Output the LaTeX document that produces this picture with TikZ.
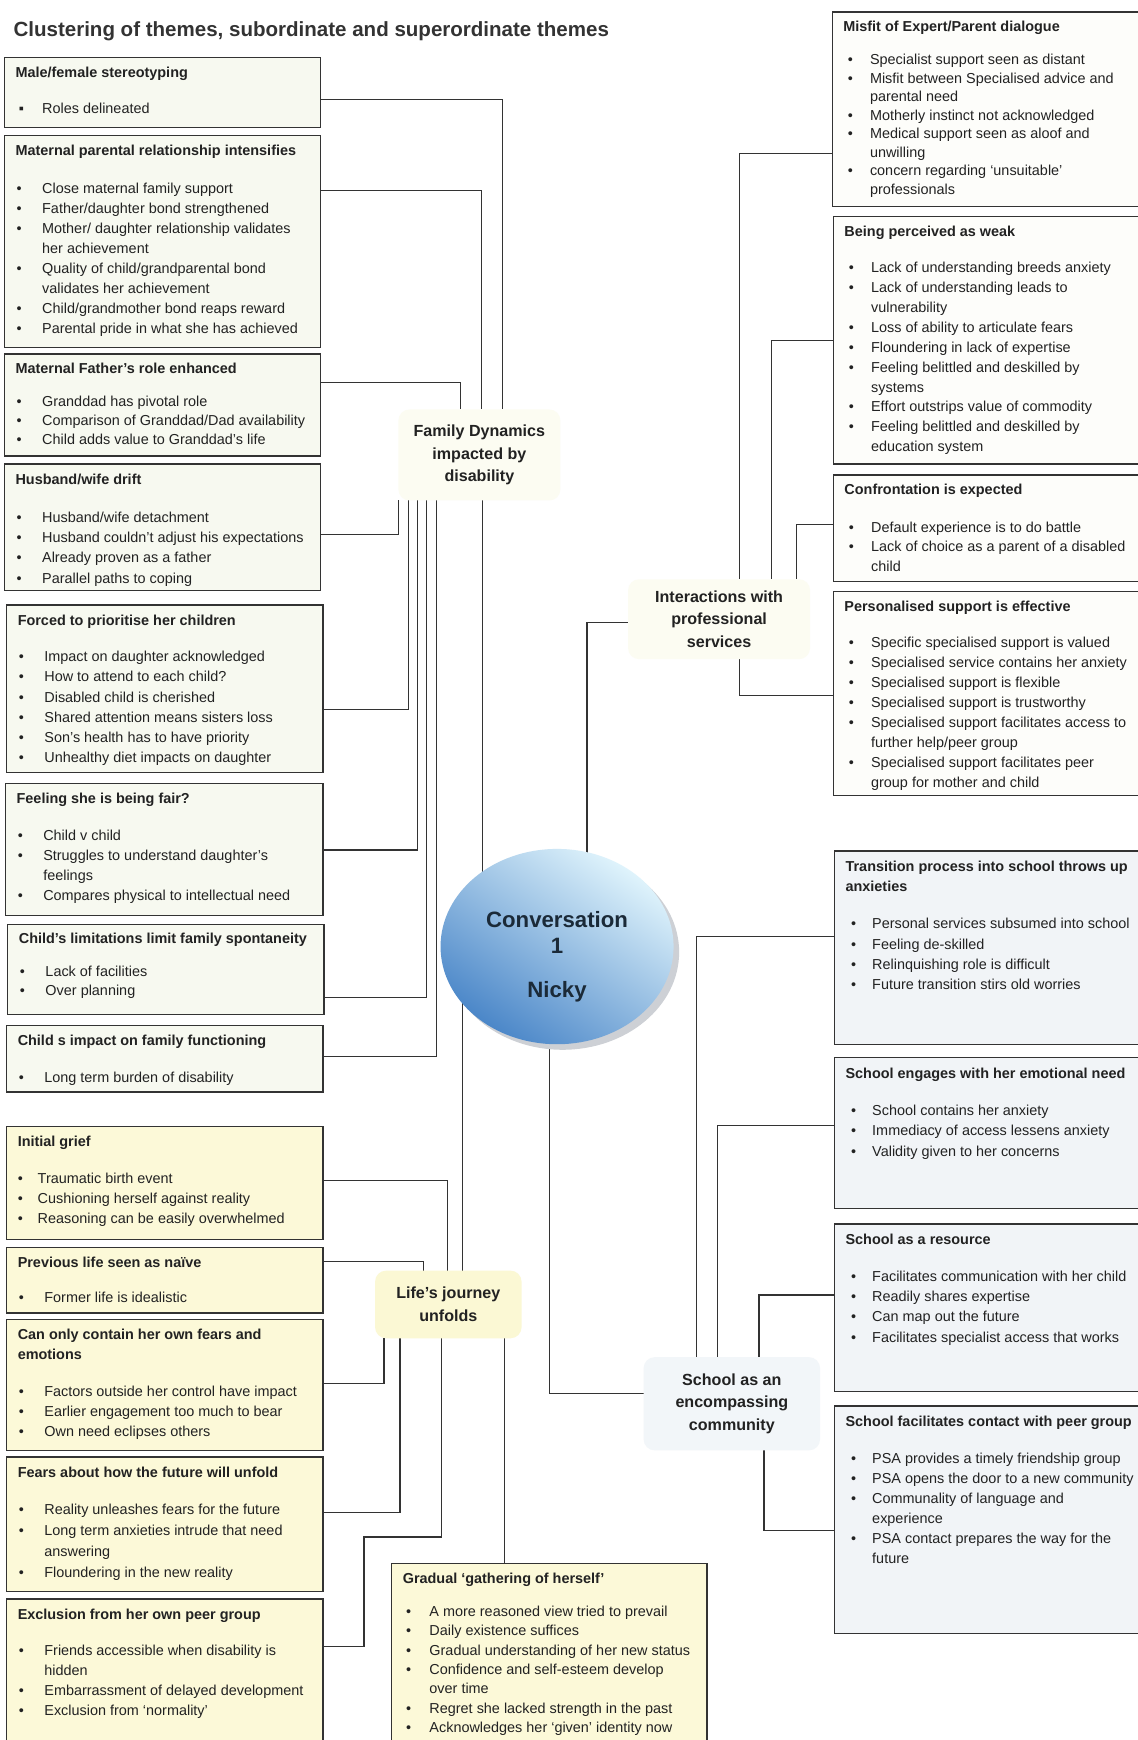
\documentclass[tikz,border=0pt]{standalone}
\usepackage{fontspec}
\setmainfont{Liberation Sans}
\usetikzlibrary{positioning, shapes.geometric, backgrounds}

\definecolor{linegray}{HTML}{333333}
\definecolor{inkgray}{HTML}{222222}
\definecolor{famfill}{HTML}{F7F9F0}
\definecolor{lifefill}{HTML}{FCF9D8}
\definecolor{proffill}{HTML}{FDFDFA}
\definecolor{schoolfill}{HTML}{F1F4F7}
\definecolor{glowyellow}{HTML}{FCFCF2}
\definecolor{glowlife}{HTML}{FBF8D4}
\definecolor{glowblue}{HTML}{F2F6F9}
\definecolor{sphtop}{HTML}{E0F4FC}
\definecolor{sphbot}{HTML}{4A86C8}
\definecolor{sphshadow}{HTML}{CDD0D5}
\definecolor{sphtext}{HTML}{1B2A38}

\newlength{\bulind}\setlength{\bulind}{24pt}
\newlength{\bulpos}\setlength{\bulpos}{1pt}
\newcommand{\themebody}[3]{\makebox[#1][l]{\parbox[t][#2][t]{420pt}{\raggedright\fontsize{13}{18}\selectfont #3}}}
\newcommand{\ttl}[2][15pt]{\strut\textbf{#2}\par\vspace{#1}}
\newcommand{\itm}[1]{\par\noindent\hangindent=\bulind\hangafter=1\makebox[\bulind][l]{\hspace{\bulpos}\textbullet}#1}
\newcommand{\sqitm}[1]{\par\noindent\hangindent=\bulind\hangafter=1\makebox[\bulind][l]{\hspace{3pt}▪}#1}

\tikzstyle{famtheme} = [rectangle, draw=linegray, line width=1.3pt, fill=famfill, text=inkgray, inner xsep=10pt, inner ysep=5.5pt, outer sep=0pt, anchor=north west]
\tikzstyle{lifetheme} = [famtheme, fill=lifefill]
\tikzstyle{proftheme} = [famtheme, fill=proffill]
\tikzstyle{schooltheme} = [famtheme, fill=schoolfill]
\tikzstyle{superord} = [rectangle, rounded corners=10pt, inner sep=0pt, outer sep=0pt, align=center, text=inkgray, font=\fontsize{14.5}{20.5}\bfseries]
\tikzstyle{sphere} = [ellipse, minimum width=210pt, minimum height=176pt, inner sep=0pt, top color=sphtop, bottom color=sphbot, shading angle=-35]
\tikzstyle{link} = [draw=linegray, line width=1pt]

\begin{document}
\begin{tikzpicture}[x=1pt, y=-1pt]
\useasboundingbox (0,0) rectangle (1025,1568);

\node (title) [anchor=base west, inner sep=0pt, text=linegray, font=\fontsize{18.5}{22}\bfseries] at (12,33) {Clustering of themes, subordinate and superordinate themes};

% family dynamics column
\node (mfs) [famtheme] at (4,52) {\themebody{265pt}{52pt}{\ttl[14pt]{Male/female stereotyping}
  \sqitm{Roles delineated}}};
\node (mpr) [famtheme, below=7pt of mfs.south west, anchor=north west] {\themebody{265pt}{180pt}{\ttl[16pt]{Maternal parental relationship intensifies}
  \itm{Close maternal family support}
  \itm{Father/daughter bond strengthened}
  \itm{Mother/ daughter relationship validates\newline her achievement}
  \itm{Quality of child/grandparental bond\newline validates her achievement}
  \itm{Child/grandmother bond reaps reward}
  \itm{Parental pride in what she has achieved}}};
\node (mfr) [famtheme, below=6pt of mpr.south west, anchor=north west] {\themebody{265pt}{81pt}{\fontsize{13}{17.3}\selectfont\ttl[12pt]{Maternal Father’s role enhanced}
  \itm{Granddad has pivotal role}
  \itm{Comparison of Granddad/Dad availability}
  \itm{Child adds value to Granddad’s life}}};
\node (hwd) [famtheme, below=7pt of mfr.south west, anchor=north west] {\themebody{265pt}{103pt}{\fontsize{13}{18.3}\selectfont\ttl[16pt]{Husband/wife drift}
  \itm{Husband/wife detachment}
  \itm{Husband couldn’t adjust his expectations}
  \itm{Already proven as a father}
  \itm{Parallel paths to coping}}};
\node (fph) [famtheme, below=13pt of hwd.south west, anchor=north west, xshift=2pt] {\themebody{265pt}{140pt}{\fontsize{13}{18.3}\selectfont\ttl[14.4pt]{Forced to prioritise her children}
  \itm{Impact on daughter acknowledged}
  \itm{How to attend to each child?}
  \itm{Disabled child is cherished}
  \itm{Shared attention means sisters loss}
  \itm{Son’s health has to have priority}
  \itm{Unhealthy diet impacts on daughter}}};
\node (fair) [famtheme, below=10pt of fph.south west, anchor=north west, xshift=-1pt] {\themebody{266pt}{108pt}{\ttl{Feeling she is being fair?}
  \itm{Child v child}
  \itm{Struggles to understand daughter’s\newline feelings}
  \itm{Compares physical to intellectual need}}};
\node (lim) [famtheme, below=8pt of fair.south west, anchor=north west, xshift=2pt] {\themebody{265pt}{70pt}{\fontsize{13}{17}\selectfont\ttl[13pt]{Child’s limitations limit family spontaneity}
  \itm{Lack of facilities}
  \itm{Over planning}}};
\node (imp) [famtheme, below=10pt of lim.south west, anchor=north west, xshift=-1pt] {\themebody{265pt}{49pt}{\ttl[15.7pt]{Child s impact on family functioning}
  \itm{Long term burden of disability}}};

% life's journey column
\node (ig) [lifetheme] at (6,1015) {\themebody{265pt}{91pt}{\setlength{\bulind}{18pt}\setlength{\bulpos}{0pt}\ttl{Initial grief}
  \itm{Traumatic birth event}
  \itm{Cushioning herself against reality}
  \itm{Reasoning can be easily overwhelmed}}};
\node (prev) [lifetheme, below=7pt of ig.south west, anchor=north west] {\themebody{265pt}{48pt}{\ttl[14pt]{Previous life seen as naïve}
  \itm{Former life is idealistic}}};
\node (can) [lifetheme, below=6pt of prev.south west, anchor=north west] {\themebody{265pt}{107pt}{\ttl{Can only contain her own fears and\newline emotions}
  \itm{Factors outside her control have impact}
  \itm{Earlier engagement too much to bear}
  \itm{Own need eclipses others}}};
\node (fears) [lifetheme, below=6pt of can.south west, anchor=north west] {\themebody{265pt}{110pt}{\fontsize{13}{19}\selectfont\ttl[14pt]{Fears about how the future will unfold}
  \itm{Reality unleashes fears for the future}
  \itm{Long term anxieties intrude that need\newline answering}
  \itm{Floundering in the new reality}}};
\node (excl) [lifetheme, below=7pt of fears.south west, anchor=north west] {\themebody{265pt}{123pt}{\ttl{Exclusion from her own peer group}
  \itm{Friends accessible when disability is\newline hidden}
  \itm{Embarrassment of delayed development}
  \itm{Exclusion from ‘normality’}}};
\node (grad) [lifetheme] at (353,1409) {\themebody{264pt}{154pt}{\fontsize{13}{17.4}\selectfont\setlength{\bulpos}{3pt}\ttl[12.6pt]{Gradual ‘gathering of herself’}
  \itm{A more reasoned view tried to prevail}
  \itm{Daily existence suffices}
  \itm{Gradual understanding of her new status}
  \itm{Confidence and self-esteem develop\newline over time}
  \itm{Regret she lacked strength in the past}
  \itm{Acknowledges her ‘given’ identity now}}};

% professional services column
\node (mis) [proftheme] at (750,11) {\themebody{280pt}{164pt}{\fontsize{13}{16.7}\selectfont\setlength{\bulpos}{4pt}\ttl[13.3pt]{Misfit of Expert/Parent dialogue}
  \itm{Specialist support seen as distant}
  \itm{Misfit between Specialised advice and\newline parental need}
  \itm{Motherly instinct not acknowledged}
  \itm{Medical support seen as aloof and\newline unwilling}
  \itm{concern regarding ‘unsuitable’\newline professionals}}};
\node (weak) [proftheme, below=9pt of mis.south west, anchor=north west, xshift=1pt] {\themebody{280pt}{212pt}{\fontsize{13}{17.9}\selectfont\setlength{\bulpos}{4pt}\ttl{Being perceived as weak}
  \itm{Lack of understanding breeds anxiety}
  \itm{Lack of understanding leads to\newline vulnerability}
  \itm{Loss of ability to articulate fears}
  \itm{Floundering in lack of expertise}
  \itm{Feeling belittled and deskilled by\newline systems}
  \itm{Effort outstrips value of commodity}
  \itm{Feeling belittled and deskilled by\newline education system}}};
\node (conf) [proftheme, below=10pt of weak.south west, anchor=north west] {\themebody{280pt}{85pt}{\fontsize{13}{17.6}\selectfont\setlength{\bulpos}{4pt}\ttl[16pt]{Confrontation is expected}
  \itm{Default experience is to do battle}
  \itm{Lack of choice as a parent of a disabled\newline child}}};
\node (pers) [proftheme, below=9pt of conf.south west, anchor=north west] {\themebody{280pt}{173pt}{\fontsize{13}{17.9}\selectfont\setlength{\bulpos}{4pt}\ttl{Personalised support is effective}
  \itm{Specific specialised support is valued}
  \itm{Specialised service contains her anxiety}
  \itm{Specialised support is flexible}
  \itm{Specialised support is trustworthy}
  \itm{Specialised support facilitates access to\newline further help/peer group}
  \itm{Specialised support facilitates peer\newline group for mother and child}}};

% school column
\node (trans) [schooltheme] at (752,767) {\themebody{280pt}{163pt}{\fontsize{13}{18.3}\selectfont\setlength{\bulpos}{5pt}\ttl{Transition process into school throws up\newline anxieties}
  \itm{Personal services subsumed into school}
  \itm{Feeling de-skilled}
  \itm{Relinquishing role is difficult}
  \itm{Future transition stirs old worries}}};
\node (eng) [schooltheme, below=12pt of trans.south west, anchor=north west] {\themebody{280pt}{125pt}{\fontsize{13}{18.5}\selectfont\setlength{\bulpos}{5pt}\ttl{School engages with her emotional need}
  \itm{School contains her anxiety}
  \itm{Immediacy of access lessens anxiety}
  \itm{Validity given to her concerns}}};
\node (res) [schooltheme, below=14pt of eng.south west, anchor=north west] {\themebody{280pt}{140pt}{\fontsize{13}{18.3}\selectfont\setlength{\bulpos}{5pt}\ttl{School as a resource}
  \itm{Facilitates communication with her child}
  \itm{Readily shares expertise}
  \itm{Can map out the future}
  \itm{Facilitates specialist access that works}}};
\node (peer) [schooltheme, below=13pt of res.south west, anchor=north west] {\themebody{280pt}{194pt}{\setlength{\bulpos}{5pt}\ttl[16pt]{School facilitates contact with peer group}
  \itm{PSA provides a timely friendship group}
  \itm{PSA opens the door to a new community}
  \itm{Communality of language and\newline experience}
  \itm{PSA contact prepares the way for the\newline future}}};

% superordinate themes
\node (fd) [superord, fill=glowyellow, minimum width=146pt, minimum height=82pt] at (432,410) {Family Dynamics\\impacted by\\disability};
\node (ips) [superord, fill=glowyellow, minimum width=164pt, minimum height=72pt] at (648,558) {Interactions with\\professional\\services};
\node (lj) [superord, fill=glowlife, minimum width=132pt, minimum height=61pt] at (404,1175.5) {Life’s journey\\unfolds};
\node (sch) [superord, fill=glowblue, minimum width=159pt, minimum height=84pt] at (659.5,1265) {School as an\\encompassing\\community};

% the conversation
\node (convshadow) [ellipse, fill=sphshadow, minimum width=210pt, minimum height=176pt, inner sep=0pt] at (507,858) {};
\node (conv) [sphere] at (502,853) {};
\node (convlabel) [align=center, text=sphtext, font=\fontsize{20}{24}\bfseries] at (502,862) {Conversation\\1\\[15pt]Nicky};

\begin{scope}[on background layer]
\fill [white] (0,0) rectangle (1025,1568);
% family dynamics links
\draw [link] (mfs.east |- 0,90) -| (fd.north -| 453,0);
\draw [link] (mpr.east |- 0,172) -| (fd.north -| 434,0);
\draw [link] (mfr.east |- 0,345) -| (fd.north -| 415,0);
\draw [link] (hwd.east |- 0,482) -| (fd.south -| 359,0);
\draw [link] (fph.east |- 0,639) -| (fd.south -| 368,0);
\draw [link] (fair.east |- 0,766) -| (fd.south -| 376,0);
\draw [link] (lim.east |- 0,899) -| (fd.south -| 384.5,0);
\draw [link] (imp.east |- 0,952) -| (fd.south -| 393,0);
\draw [link] (fd.south -| 435,0) -- (conv.center -| 435,0);
% professional services links
\draw [link] (mis.west |- 0,138) -| (ips.north -| 666,0);
\draw [link] (weak.west |- 0,307) -| (ips.north -| 695.5,0);
\draw [link] (conf.west |- 0,473) -| (ips.north -| 717.5,0);
\draw [link] (pers.west |- 0,627) -| (ips.south -| 666,0);
\draw [link] (ips.west |- 0,561) -| (conv.center -| 529,0);
% life's journey links
\draw [link] (ig.east |- 0,1064) -| (lj.north -| 403.5,0);
\draw [link] (prev.east |- 0,1137) -| (lj.north -| 382,0);
\draw [link] (conv.center -| 417,0) -- (lj.north -| 417,0);
\draw [link] (can.east |- 0,1247) -| (lj.south -| 346,0);
\draw [link] (fears.east |- 0,1363) -| (lj.south -| 360.5,0);
\draw [link] (excl.east |- 0,1484) -| (328,1385) -| (lj.south -| 397.5,0);
\draw [link] (lj.south -| 455,0) -- (grad.north -| 455,0);
% school links
\draw [link] (trans.west |- 0,844) -| (sch.north -| 628,0);
\draw [link] (eng.west |- 0,1014) -| (sch.north -| 646.5,0);
\draw [link] (res.west |- 0,1167) -| (sch.north -| 684,0);
\draw [link] (peer.west |- 0,1379) -| (sch.south -| 688.5,0);
\draw [link] (conv.center -| 495,0) |- (sch.west |- 0,1256);
\end{scope}
\end{tikzpicture}
\end{document}
